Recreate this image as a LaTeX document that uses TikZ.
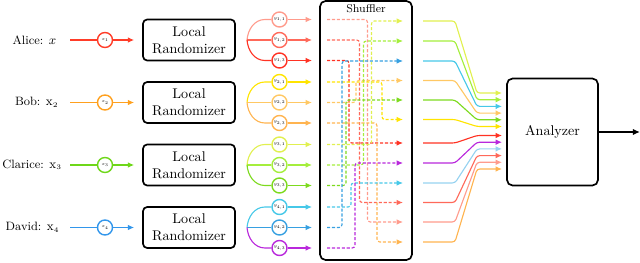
\documentclass[tikz,border=0pt]{standalone}
\usepackage{graphicx}
\usetikzlibrary{arrows.meta}

\definecolor{aliceX}{RGB}{255,60,40}
\definecolor{bobX}{RGB}{255,160,30}
\definecolor{clarX}{RGB}{110,215,25}
\definecolor{daveX}{RGB}{50,150,235}
\definecolor{redA}{RGB}{255,155,140}
\definecolor{redB}{RGB}{255,105,90}
\definecolor{redC}{RGB}{255,50,35}
\definecolor{yelA}{RGB}{255,228,0}
\definecolor{orgA}{RGB}{255,200,100}
\definecolor{orgB}{RGB}{255,180,80}
\definecolor{limeA}{RGB}{225,240,80}
\definecolor{limeB}{RGB}{165,238,60}
\definecolor{limeC}{RGB}{125,218,30}
\definecolor{cyanA}{RGB}{70,200,232}
\definecolor{blueA}{RGB}{55,160,225}
\definecolor{purpA}{RGB}{185,40,220}
\definecolor{skyA}{RGB}{150,210,240}

\newcommand{\cirtxt}[1]{\scalebox{0.6}{\tiny$#1$}}

\tikzset{
  flow/.style={line width=0.8pt},
  flowarr/.style={line width=0.8pt, -{Latex[length=4.5pt,width=4pt]}},
  dsharr/.style={flowarr, dash pattern=on 2.2pt off 1.3pt, rounded corners=2pt},
  outarr/.style={flowarr, rounded corners=2pt},
  xcirc/.style={circle, draw, line width=1pt, fill=white, minimum size=0.375cm, inner sep=0pt},
  userlab/.style={anchor=east, inner xsep=1pt, font=\fontsize{8.6}{10}\selectfont},
  randbox/.style={draw, line width=1.2pt, rounded corners=3pt, minimum width=2.3cm, minimum height=1.025cm, align=center},
}

\begin{document}
\begin{tikzpicture}[x=0.025cm, y=0.025cm]
    \useasboundingbox (0,0) rectangle (640,263);

    % 用户1：Alice
    \begin{scope}[shift={(0,223)}]
        \node[userlab] (lab1) at (58,0) {Alice: $x$};
        \coordinate (s1) at (70,0);
        \node[xcirc, draw=aliceX] (x1) at (105,0) {\cirtxt{x_1}};
        \node[randbox] (lr1) at (189,0) {Local\\Randomizer};
        \draw[flow, aliceX] (s1) -- (x1);
        \draw[flowarr, aliceX, shorten >=0.2cm] (x1) -- (lr1);
        \coordinate (f1) at (247,0);
        \node[xcirc, draw=redA] (y11) at (279.5,20.5) {\cirtxt{y_{1,1}}};
        \node[xcirc, draw=redB] (y12) at (279.5,0) {\cirtxt{y_{1,2}}};
        \node[xcirc, draw=redC] (y13) at (279.5,-20.5) {\cirtxt{y_{1,3}}};
        \draw[flow, redA] (f1) to[out=85,in=180] (265,20.5) -- (y11);
        \draw[flow, redB] (f1) -- (y12);
        \draw[flow, redC] (f1) to[out=-85,in=180] (265,-20.5) -- (y13);
        \coordinate (a11) at (312,20.5);
        \coordinate (a12) at (312,0);
        \coordinate (a13) at (312,-20.5);
        \draw[flowarr, redA] (y11) -- (a11);
        \draw[flowarr, redB] (y12) -- (a12);
        \draw[flowarr, redC] (y13) -- (a13);
        \coordinate (i11) at (327,20.5);
        \coordinate (i12) at (327,0);
        \coordinate (i13) at (327,-20.5);
    \end{scope}

    % 用户2：Bob
    \begin{scope}[shift={(0,160.5)}]
        \node[userlab] (lab2) at (60,0) {Bob: $\mathrm{x}_{\scriptscriptstyle 2}$};
        \coordinate (s2) at (70,0);
        \node[xcirc, draw=bobX] (x2) at (105,0) {\cirtxt{x_2}};
        \node[randbox] (lr2) at (189,0) {Local\\Randomizer};
        \draw[flow, bobX] (s2) -- (x2);
        \draw[flowarr, bobX, shorten >=0.2cm] (x2) -- (lr2);
        \coordinate (f2) at (247,0);
        \node[xcirc, draw=yelA] (y21) at (279.5,20.5) {\cirtxt{y_{2,1}}};
        \node[xcirc, draw=orgA] (y22) at (279.5,0) {\cirtxt{y_{2,2}}};
        \node[xcirc, draw=orgB] (y23) at (279.5,-20.5) {\cirtxt{y_{2,3}}};
        \draw[flow, yelA] (f2) to[out=85,in=180] (265,20.5) -- (y21);
        \draw[flow, orgA] (f2) -- (y22);
        \draw[flow, orgB] (f2) to[out=-85,in=180] (265,-20.5) -- (y23);
        \coordinate (a21) at (312,20.5);
        \coordinate (a22) at (312,0);
        \coordinate (a23) at (312,-20.5);
        \draw[flowarr, yelA] (y21) -- (a21);
        \draw[flowarr, orgA] (y22) -- (a22);
        \draw[flowarr, orgB] (y23) -- (a23);
        \coordinate (i21) at (327,20.5);
        \coordinate (i22) at (327,0);
        \coordinate (i23) at (327,-20.5);
    \end{scope}

    % 用户3：Clarice
    \begin{scope}[shift={(0,98)}]
        \node[userlab] (lab3) at (63.5,0) {Clarice: $\mathrm{x}_{\scriptscriptstyle 3}$};
        \coordinate (s3) at (70,0);
        \node[xcirc, draw=clarX] (x3) at (105,0) {\cirtxt{x_3}};
        \node[randbox] (lr3) at (189,0) {Local\\Randomizer};
        \draw[flow, clarX] (s3) -- (x3);
        \draw[flowarr, clarX, shorten >=0.2cm] (x3) -- (lr3);
        \coordinate (f3) at (247,0);
        \node[xcirc, draw=limeA] (y31) at (279.5,20.5) {\cirtxt{y_{3,1}}};
        \node[xcirc, draw=limeB] (y32) at (279.5,0) {\cirtxt{y_{3,2}}};
        \node[xcirc, draw=limeC] (y33) at (279.5,-20.5) {\cirtxt{y_{3,3}}};
        \draw[flow, limeA] (f3) to[out=85,in=180] (265,20.5) -- (y31);
        \draw[flow, limeB] (f3) -- (y32);
        \draw[flow, limeC] (f3) to[out=-85,in=180] (265,-20.5) -- (y33);
        \coordinate (a31) at (312,20.5);
        \coordinate (a32) at (312,0);
        \coordinate (a33) at (312,-20.5);
        \draw[flowarr, limeA] (y31) -- (a31);
        \draw[flowarr, limeB] (y32) -- (a32);
        \draw[flowarr, limeC] (y33) -- (a33);
        \coordinate (i31) at (327,20.5);
        \coordinate (i32) at (327,0);
        \coordinate (i33) at (327,-20.5);
    \end{scope}

    % 用户4：David
    \begin{scope}[shift={(0,35.5)}]
        \node[userlab] (lab4) at (61,0) {David: $\mathrm{x}_{\scriptscriptstyle 4}$};
        \coordinate (s4) at (70,0);
        \node[xcirc, draw=daveX] (x4) at (105,0) {\cirtxt{x_4}};
        \node[randbox] (lr4) at (189,0) {Local\\Randomizer};
        \draw[flow, daveX] (s4) -- (x4);
        \draw[flowarr, daveX, shorten >=0.2cm] (x4) -- (lr4);
        \coordinate (f4) at (247,0);
        \node[xcirc, draw=cyanA] (y41) at (279.5,20.5) {\cirtxt{y_{4,1}}};
        \node[xcirc, draw=blueA] (y42) at (279.5,0) {\cirtxt{y_{4,2}}};
        \node[xcirc, draw=purpA] (y43) at (279.5,-20.5) {\cirtxt{y_{4,3}}};
        \draw[flow, cyanA] (f4) to[out=85,in=180] (265,20.5) -- (y41);
        \draw[flow, blueA] (f4) -- (y42);
        \draw[flow, purpA] (f4) to[out=-85,in=180] (265,-20.5) -- (y43);
        \coordinate (a41) at (312,20.5);
        \coordinate (a42) at (312,0);
        \coordinate (a43) at (312,-20.5);
        \draw[flowarr, cyanA] (y41) -- (a41);
        \draw[flowarr, blueA] (y42) -- (a42);
        \draw[flowarr, purpA] (y43) -- (a43);
        \coordinate (i41) at (327,20.5);
        \coordinate (i42) at (327,0);
        \coordinate (i43) at (327,-20.5);
    \end{scope}

    % 混洗器
    \node[draw, line width=1.2pt, rounded corners=4pt, minimum width=2.3cm, minimum height=6.475cm] (shuf) at (366,132.5) {};
    \node[font=\footnotesize] (shuft) at (366,254) {Shuffler};
    \coordinate (p1) at (403,242);
    \coordinate (p2) at (403,222);
    \coordinate (p3) at (403,202);
    \coordinate (p4) at (403,182.5);
    \coordinate (p5) at (403,163);
    \coordinate (p6) at (403,143.5);
    \coordinate (p7) at (403,120);
    \coordinate (p8) at (403,100);
    \coordinate (p9) at (403,80);
    \coordinate (p10) at (403,60.5);
    \coordinate (p11) at (403,41);
    \coordinate (p12) at (403,21);
    \draw[dsharr, redA] (i11) -| (367.5,41) -- (p11);
    \draw[dsharr, redB] (i12) -| (359.5,60.5) -- (p10);
    \draw[dsharr, redC] (i13) -| (349,120) -- (p7);
    \draw[dsharr, yelA] (i21) -| (382,143.5) -- (p6);
    \draw[dsharr, orgA] (i22) -| (356,182.5) -- (p4);
    \draw[dsharr, orgB] (i23) -| (377,21) -- (p12);
    \draw[dsharr, limeA] (i31) -| (371.5,242) -- (p1);
    \draw[dsharr, limeB] (i32) -| (363.5,222) -- (p2);
    \draw[dsharr, limeC] (i33) -| (346,163) -- (p5);
    \draw[dsharr, cyanA] (i41) -| (351,80) -- (p9);
    \draw[dsharr, blueA] (i42) -| (342,202) -- (p3);
    \draw[dsharr, purpA] (i43) -| (355,100) -- (p8);

    % 分析器
    \node[draw, line width=1.2pt, rounded corners=4pt, minimum width=2.275cm, minimum height=2.675cm] (ana) at (552.5,131) {Analyzer};
    \coordinate (res) at (640,131);
    \draw[line width=1.2pt, -{Latex[length=5pt,width=4.5pt]}] (ana) -- (res);
    \coordinate (q1) at (423,242);   \coordinate (t1) at (502,170);
    \coordinate (q2) at (423,222);   \coordinate (t2) at (502,163.3);
    \coordinate (q3) at (423,202);   \coordinate (t3) at (502,156.6);
    \coordinate (q4) at (423,182.5); \coordinate (t4) at (502,149.9);
    \coordinate (q5) at (423,163);   \coordinate (t5) at (502,143.2);
    \coordinate (q6) at (423,143.5); \coordinate (t6) at (502,136.5);
    \coordinate (q7) at (423,120);   \coordinate (t7) at (502,127.5);
    \coordinate (q8) at (423,100);   \coordinate (t8) at (502,120.8);
    \coordinate (q9) at (423,80);    \coordinate (t9) at (502,114.1);
    \coordinate (q10) at (423,60.5); \coordinate (t10) at (502,107.4);
    \coordinate (q11) at (423,41);   \coordinate (t11) at (502,100.7);
    \coordinate (q12) at (423,21);   \coordinate (t12) at (502,94);
    \draw[outarr, limeA] (q1) -- (455,242) -- (477,170) -- (t1);
    \draw[outarr, limeB] (q2) -- (455,222) -- (477,163.3) -- (t2);
    \draw[outarr, cyanA] (q3) -- (455,202) -- (477,156.6) -- (t3);
    \draw[outarr, orgA] (q4) -- (455,182.5) -- (477,149.9) -- (t4);
    \draw[outarr, limeC] (q5) -- (455,163) -- (477,143.2) -- (t5);
    \draw[outarr, yelA] (q6) -- (455,143.5) -- (477,136.5) -- (t6);
    \draw[outarr, redC] (q7) -- (455,120) -- (477,127.5) -- (t7);
    \draw[outarr, purpA] (q8) -- (455,100) -- (477,120.8) -- (t8);
    \draw[outarr, skyA] (q9) -- (455,80) -- (477,114.1) -- (t9);
    \draw[outarr, redB] (q10) -- (455,60.5) -- (477,107.4) -- (t10);
    \draw[outarr, redA] (q11) -- (455,41) -- (477,100.7) -- (t11);
    \draw[outarr, orgB] (q12) -- (455,21) -- (477,94) -- (t12);
\end{tikzpicture}
\end{document}
